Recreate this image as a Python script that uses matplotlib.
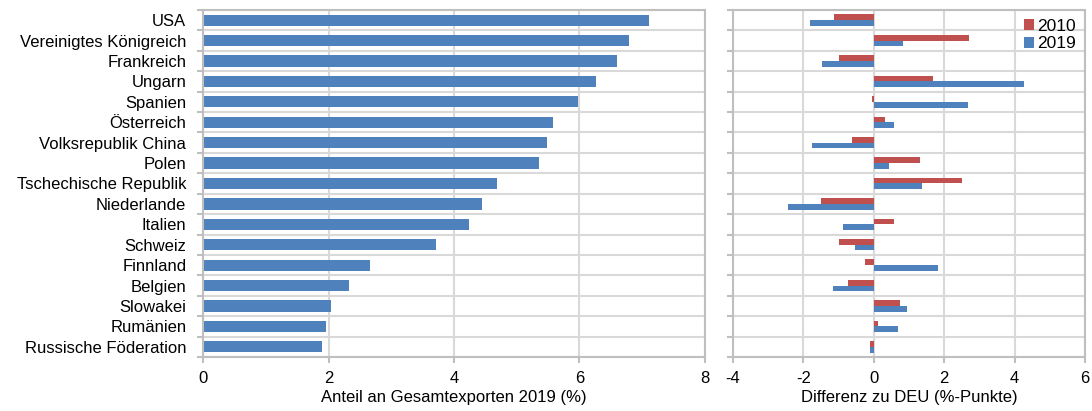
import matplotlib
matplotlib.use('Agg')
import matplotlib.pyplot as plt
import numpy as np

plt.rcParams['font.family'] = ['Liberation Sans', 'DejaVu Sans']
plt.rcParams['font.size'] = 12
plt.rcParams['axes.unicode_minus'] = False

countries = ['USA', 'Vereinigtes Königreich', 'Frankreich', 'Ungarn', 'Spanien',
             'Österreich', 'Volksrepublik China', 'Polen', 'Tschechische Republik',
             'Niederlande', 'Italien', 'Schweiz', 'Finnland', 'Belgien', 'Slowakei',
             'Rumänien', 'Russische Föderation']
share_2019 = [7.11, 6.79, 6.59, 6.27, 5.98, 5.57, 5.48, 5.36, 4.69, 4.45,
              4.24, 3.72, 2.66, 2.33, 2.04, 1.96, 1.90]
diff_2010 = [-1.14, 2.71, -0.98, 1.67, -0.05, 0.32, -0.62, 1.31, 2.51, -1.51,
             0.58, -0.99, -0.26, -0.72, 0.74, 0.11, -0.10]
diff_2019 = [-1.82, 0.83, -1.46, 4.28, 2.67, 0.58, -1.76, 0.42, 1.36, -2.45,
             -0.88, -0.52, 1.83, -1.15, 0.95, 0.68, -0.10]

blue = '#4F81BD'
red = '#C0504D'
grid_c = '#D9D9D9'
spine_c = '#BFBFBF'

fig = plt.figure(figsize=(10.92, 4.11), dpi=100)
ax1 = fig.add_axes([0.1859, 0.1314, 0.4597, 0.8443])
ax2 = fig.add_axes([0.6712, 0.1314, 0.3224, 0.8443])

y = np.arange(len(countries))


def style(ax):
    ax.set_ylim(len(countries) - 0.5, -0.5)
    ax.set_yticks(y)
    ax.set_yticks(np.arange(-0.5, len(countries), 1.0), minor=True)
    ax.tick_params(axis='y', which='major', length=0)
    ax.tick_params(axis='y', which='minor', length=4, color=spine_c, width=1.5)
    ax.tick_params(axis='x', length=4, color=spine_c, width=1.5, pad=6)
    ax.grid(axis='y', which='minor', color=grid_c, linewidth=1.5)
    ax.grid(axis='x', which='major', color=grid_c, linewidth=1.5)
    ax.set_axisbelow(True)
    for s in ax.spines.values():
        s.set_color(spine_c)
        s.set_linewidth(1.5)


ax1.barh(y, share_2019, height=0.55, color=blue)
style(ax1)
ax1.set_yticklabels(countries)
ax1.tick_params(axis='y', pad=12)
ax1.set_xlim(0, 8)
ax1.set_xticks([0, 2, 4, 6, 8])
ax1.set_xlabel('Anteil an Gesamtexporten 2019 (%)', labelpad=3)

h = 0.28
ax2.barh(y - h / 2, diff_2010, height=h, color=red, label='2010')
ax2.barh(y + h / 2, diff_2019, height=h, color=blue, label='2019')
style(ax2)
ax2.set_yticklabels([])
ax2.set_xlim(-4, 6)
ax2.set_xticks([-4, -2, 0, 2, 4, 6])
ax2.set_xlabel('Differenz zu DEU (%-Punkte)', labelpad=3)
ax2.legend(loc='upper right', frameon=False, handlelength=0.6, handleheight=0.6,
           handletextpad=0.2, borderaxespad=0.1, labelspacing=0.15, fontsize=12.5)

plt.savefig('out.png', dpi=100)
